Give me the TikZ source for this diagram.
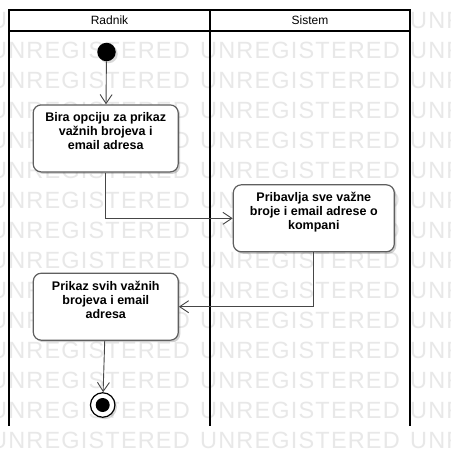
\documentclass[tikz,border=0pt]{standalone}
\usepackage{fontspec}
\setmainfont{Liberation Sans}
\newfontfamily\wmfont[LetterSpace=5]{Liberation Sans}
\usetikzlibrary{arrows.meta,shadows}
\definecolor{wmgray}{RGB}{232,232,232}
\definecolor{linegray}{RGB}{70,70,70}
\definecolor{boxgray}{RGB}{95,95,95}
\tikzset{
  act/.style={draw=boxgray, line width=1.2pt, rounded corners=8pt, fill=white,
    minimum width=145pt, minimum height=67pt,
    drop shadow={shadow xshift=2pt, shadow yshift=-2pt, fill=black, opacity=0.18}},
  acttext/.style={font=\fontsize{12.5}{14}\selectfont\bfseries, align=center, inner sep=0pt},
  flow/.style={draw=linegray, line width=0.9pt, -{Straight Barb[length=9pt,width=12pt]}},
  lane/.style={line width=2pt},
  head/.style={font=\fontsize{12}{14}\selectfont, inner sep=0pt},
  wm/.style={text=wmgray, font=\wmfont\fontsize{23.5}{24}\selectfont, anchor=west, inner sep=0pt},
}
\begin{document}
\begin{tikzpicture}[x=1pt,y=-1pt]
  \useasboundingbox[fill=white] (0,0) rectangle (450,466);

  % watermark
  \foreach \r in {0,...,14}
    \foreach \c in {0,1,2}
      \node[wm] (wm-\r-\c) at (-10+210*\c, 20+30*\r) {UNREGISTERED};

  % swimlanes
  \draw[lane, fill=white] (9,10) rectangle (410,31);
  \draw[lane] (9,10) -- (9,426);
  \draw[lane] (210,10) -- (210,426);
  \draw[lane] (410,10) -- (410,426);
  \node[head] (radnik) at (109.5,20.5) {Radnik};
  \node[head] (sistem) at (310,20.5) {Sistem};

  % activities
  \node[circle, fill=black, minimum size=18.5pt, inner sep=0pt,
    drop shadow={shadow xshift=2pt, shadow yshift=-2pt, fill=black, opacity=0.15}] (start) at (106.5,52) {};

  \node[act] (bira) at (105.7,138.4) {};
  \node[acttext, anchor=north] (biraTxt) at ([yshift=-8pt]bira.north) {Bira opciju za prikaz\\važnih brojeva i\\email adresa};

  \node[act, minimum width=161pt] (pribavlja) at (313.8,218.3) {};
  \node[acttext, anchor=north] (pribavljaTxt) at ([yshift=-8pt]pribavlja.north) {Pribavlja sve važne\\broje i email adrese o\\kompani};

  \node[act] (prikaz) at (105.8,306.7) {};
  \node[acttext, anchor=north] (prikazTxt) at ([yshift=-8pt]prikaz.north) {Prikaz svih važnih\\brojeva i email\\adresa};

  \node[circle, draw=black, line width=1.2pt, fill=white, minimum size=24.5pt, inner sep=0pt,
    drop shadow={shadow xshift=2pt, shadow yshift=-2pt, fill=black, opacity=0.15}] (end) at (102.7,405) {};
  \node[circle, fill=black, minimum size=14pt, inner sep=0pt] (endDot) at (end) {};

  \path (start) edge[flow] (bira);
  \draw[flow] (bira.south) |- (pribavlja.west);
  \draw[flow] (pribavlja.south) |- (prikaz.east);
  \path (prikaz) edge[flow] (end);

\end{tikzpicture}
\end{document}
